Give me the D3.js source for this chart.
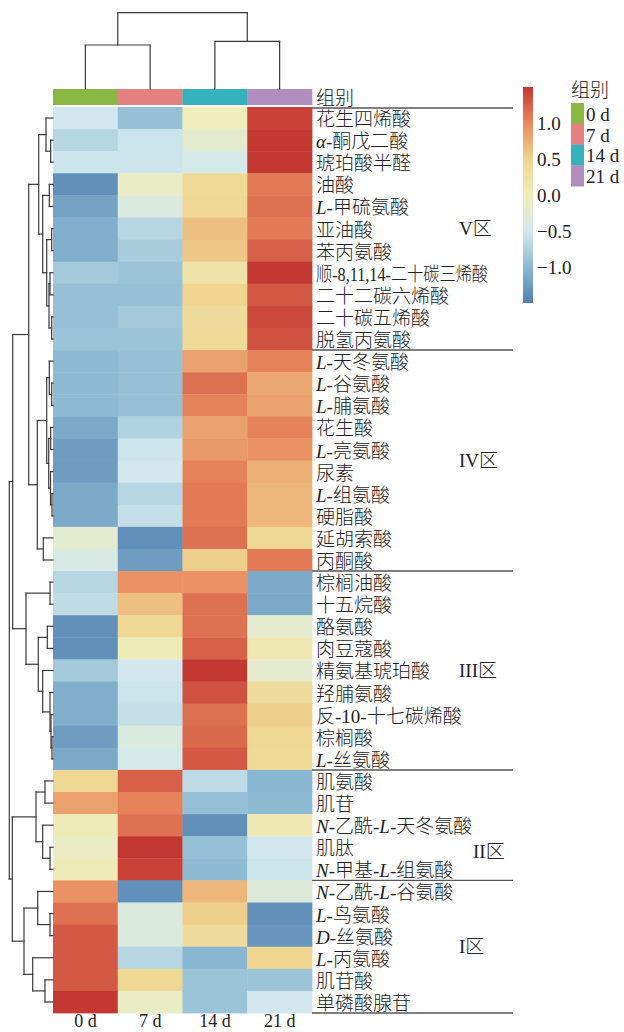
<!DOCTYPE html>
<html>
<head>
<meta charset="utf-8">
<script src="https://cdn.jsdelivr.net/npm/d3@7"></script>
<style>
  html, body { margin: 0; padding: 0; background: #fff; }
  svg text { font-family: "Liberation Serif", "Noto Sans CJK SC", serif; fill: #222; }
  .cjk-light { font-weight: 300; }
</style>
</head>
<body>
<svg id="chart" width="624" height="1032"></svg>
<script>
// ---- data -------------------------------------------------------------
// sampling days (columns) and their group colours
const days = ["0 d", "7 d", "14 d", "21 d"];
const dayColors = ["#8BB842", "#E4807F", "#35B2BD", "#B18CBE"];

// metabolites in dendrogram order; *...* marks italic prefixes
const metabolites = [
  "花生四烯酸", "*α*-酮戊二酸", "琥珀酸半醛", "油酸", "*L*-甲硫氨酸", "亚油酸", "苯丙氨酸",
  "顺-8,11,14-二十碳三烯酸", "二十二碳六烯酸", "二十碳五烯酸", "脱氢丙氨酸",
  "*L*-天冬氨酸", "*L*-谷氨酸", "*L*-脯氨酸", "花生酸", "*L*-亮氨酸", "尿素", "*L*-组氨酸",
  "硬脂酸", "延胡索酸", "丙酮酸",
  "棕榈油酸", "十五烷酸", "酪氨酸", "肉豆蔻酸", "精氨基琥珀酸", "羟脯氨酸",
  "反-10-十七碳烯酸", "棕榈酸", "*L*-丝氨酸",
  "肌氨酸", "肌苷", "*N*-乙酰-*L*-天冬氨酸", "肌肽", "*N*-甲基-*L*-组氨酸",
  "*N*-乙酰-*L*-谷氨酸", "*L*-鸟氨酸", "*D*-丝氨酸", "*L*-丙氨酸", "肌苷酸", "单磷酸腺苷"
];

// row-scaled (z-score) relative abundance per day
const z0d = [-0.5, -0.7, -0.55, -1.35, -1.2, -1.1, -1.1, -0.85, -0.95, -0.95, -0.9,
  -1.0, -1.0, -1.0, -1.15, -1.25, -1.25, -1.15, -1.15, -0.2, -0.4,
  -0.7, -0.65, -1.35, -1.35, -0.85, -1.1, -1.1, -1.25, -1.15,
  0.45, 0.85, 0.05, -0.1, 0.05,
  0.95, 1.15, 1.3, 1.3, 1.3, 1.5];
const z7d = [-0.95, -0.55, -0.55, -0.1, -0.35, -0.7, -0.8, -0.9, -0.95, -0.85, -0.9,
  -0.95, -0.95, -0.95, -0.75, -0.55, -0.5, -0.7, -0.6, -1.35, -1.25,
  0.95, 0.65, 0.45, 0.05, -0.5, -0.55, -0.6, -0.35, -0.45,
  1.25, 1.05, 1.15, 1.5, 1.45,
  -1.35, -0.35, -0.35, -0.7, 0.45, -0.1];
const z14d = [0.0, -0.2, -0.45, 0.4, 0.45, 0.65, 0.6, 0.2, 0.5, 0.35, 0.4,
  0.85, 1.15, 1.05, 0.85, 0.9, 1.05, 1.1, 1.1, 1.15, 0.55,
  0.95, 1.15, 1.15, 1.25, 1.5, 1.35, 1.15, 1.2, 1.3,
  -0.65, -0.95, -1.35, -0.95, -1.0,
  0.7, 0.55, 0.35, -1.05, -0.9, -0.9];
const z21d = [1.45, 1.5, 1.5, 1.1, 1.15, 1.1, 1.25, 1.5, 1.3, 1.4, 1.35,
  1.05, 0.8, 0.85, 1.05, 0.95, 0.75, 0.7, 0.7, 0.45, 1.1,
  -1.15, -1.15, -0.2, 0.1, -0.2, 0.35, 0.55, 0.45, 0.4,
  -1.05, -1.0, 0.1, -0.5, -0.55,
  -0.3, -1.35, -1.3, 0.5, -0.9, -0.5];
const zByDay = [z0d, z7d, z14d, z21d];

// clusters (regions) as row counts, top to bottom
const regionNames = ["V区", "IV区", "III区", "II区", "I区"];
const regionSizes = [11, 10, 9, 5, 6];

// hierarchical clustering, hclust convention: negative = leaf (-(i+1)), positive = earlier merge (1-based)
const rowMerge = [
  [-2, -3, 2.3], [-1, 1, 7], [-4, -5, 3.7], [-6, -7, 1.3], [-8, -9, 3], [-10, -11, 1.3],
  [5, 6, 4], [4, 7, 6.3], [3, 8, 10.3], [2, 9, 14.3],
  [-13, -14, 1.3], [-12, 11, 3.7], [-15, -16, 2.3], [-18, -19, 1], [-17, 14, 2.5],
  [13, 15, 4.3], [12, 16, 6.3], [-20, -21, 9.7], [17, 18, 15.7], [10, 19, 24.3],
  [-22, -23, 3], [-24, -25, 5.7], [-29, -30, 1], [-28, 23, 2], [-27, 24, 3],
  [-26, 25, 10.3], [22, 26, 14.7], [21, 27, 27], [20, 28, 40.3],
  [-31, -32, 8], [-34, -35, 3], [-33, 31, 10.3], [30, 32, 17],
  [-37, -38, 3], [-36, 34, 15.3], [-40, -41, 8], [-39, 36, 20.3], [35, 37, 29],
  [33, 38, 40.7], [29, 39, 43.7]
];
const colMerge = [[-1, -2, 44], [-3, -4, 47.7], [1, 2, 76.3]];

// colour-key ticks
const keyTicks = [1.0, 0.5, 0.0, -0.5, -1.0];
const keyColors = ["#4E7EB0", "#8EBBD2", "#D3E8EE", "#EFEDBA", "#EFD590", "#E98A5E", "#C43832"];

// ---- layout -------------------------------------------------------------
const L = {
  hmLeft: 53, hmRight: 312, hmTop: 107, hmBottom: 1013,
  barTop: 89, barBottom: 105,
  rowDendroLeft: 9.3, colDendroTop: 12.7,
  labelX: 316, lineEnd: 513, regionX: 459,
  keyX: 523, keyW: 10, keyTop: 87, keyBottom: 303,
  legX: 571, legTop: 103, legSw: 13, legH: 20.8,
  fs: 19
};
// where each region label sits (in row units) and its horizontal nudge
const regionLabelRow = [5.5, 16, 25.5, 33.7, 38];
const regionLabelDx = [0, 0, 0, 14, 0];

const svg = d3.select("#chart");

const x = d3.scaleBand().domain(days).range([L.hmLeft, L.hmRight]);
const y = d3.scaleBand().domain(metabolites).range([L.hmTop, L.hmBottom]);
const color = d3.scaleLinear()
  .domain(d3.range(keyColors.length).map(i => -1.5 + i * 0.5))
  .range(keyColors).clamp(true);

// ---- heatmap cells ----
const cells = [];
metabolites.forEach((m, i) => days.forEach((d, j) => cells.push({ m, d, v: zByDay[j][i] })));
svg.append("g").selectAll("rect").data(cells).join("rect")
  .attr("x", c => x(c.d)).attr("y", c => y(c.m))
  .attr("width", x.bandwidth() + 0.4).attr("height", y.bandwidth() + 0.4)
  .attr("fill", c => color(c.v));

// ---- group annotation bar ----
svg.append("g").selectAll("rect").data(days).join("rect")
  .attr("x", d => x(d)).attr("y", L.barTop)
  .attr("width", x.bandwidth() + 0.3).attr("height", L.barBottom - L.barTop)
  .attr("fill", (d, i) => dayColors[i]);
svg.append("text").attr("class", "cjk-light")
  .attr("x", L.labelX).attr("y", (L.barTop + L.barBottom) / 2 + 1)
  .attr("dominant-baseline", "central").attr("font-size", L.fs).text("组别");

// ---- dendrograms ----
function buildTree(merge, leafPos) {
  const nodes = [];
  const get = k => k < 0 ? { pos: leafPos(-k - 1), h: 0 } : nodes[k - 1];
  const segs = [];
  merge.forEach(([a, b, h]) => {
    const na = get(a), nb = get(b);
    segs.push({ p1: na.pos, p2: nb.pos, h1: h, h2: h });      // joining bar
    segs.push({ p1: na.pos, p2: na.pos, h1: na.h, h2: h });   // arm to child a
    segs.push({ p1: nb.pos, p2: nb.pos, h1: nb.h, h2: h });   // arm to child b
    nodes.push({ pos: (na.pos + nb.pos) / 2, h });
  });
  return segs;
}

const rowH = d3.scaleLinear().domain([0, d3.max(rowMerge, d => d[2])]).range([L.hmLeft, L.rowDendroLeft]);
const rowSegs = buildTree(rowMerge, i => y(metabolites[i]) + y.bandwidth() / 2);
svg.append("g").selectAll("line").data(rowSegs).join("line")
  .attr("x1", s => rowH(s.h1)).attr("x2", s => rowH(s.h2))
  .attr("y1", s => s.p1).attr("y2", s => s.p2)
  .attr("stroke", "#3a3a3a").attr("stroke-width", 1.2).attr("stroke-linecap", "square");

const colH = d3.scaleLinear().domain([0, d3.max(colMerge, d => d[2])]).range([L.barTop, L.colDendroTop]);
const colSegs = buildTree(colMerge, j => x(days[j]) + x.bandwidth() / 2);
svg.append("g").selectAll("line").data(colSegs).join("line")
  .attr("y1", s => colH(s.h1)).attr("y2", s => colH(s.h2))
  .attr("x1", s => s.p1).attr("x2", s => s.p2)
  .attr("stroke", "#3a3a3a").attr("stroke-width", 1.2).attr("stroke-linecap", "square");

// ---- row labels with italic prefixes ----
const rowLab = svg.append("g").selectAll("text").data(metabolites).join("text")
  .attr("class", "cjk-light")
  .attr("x", L.labelX).attr("y", m => y(m) + y.bandwidth() / 2 + 1)
  .attr("dominant-baseline", "central").attr("font-size", L.fs);
rowLab.each(function (m) {
  const t = d3.select(this);
  m.split("*").forEach((part, k) => {
    if (!part) return;
    t.append("tspan").text(part).attr("font-style", k % 2 ? "italic" : null);
  });
});
// long labels are condensed to the label column width
rowLab.each(function () {
  const w = this.getComputedTextLength();
  if (w > 172) d3.select(this).attr("textLength", 172).attr("lengthAdjust", "spacingAndGlyphs");
});

// ---- region separators and labels ----
const bounds = [0, ...d3.cumsum(regionSizes)];
svg.append("g").selectAll("line").data(bounds).join("line")
  .attr("x1", L.hmRight).attr("x2", L.lineEnd)
  .attr("y1", k => L.hmTop + k * y.step() + (k === 0 ? 1 : 0))
  .attr("y2", k => L.hmTop + k * y.step() + (k === 0 ? 1 : 0))
  .attr("stroke", "#555").attr("stroke-width", 1.4);
svg.append("g").selectAll("text").data(regionNames).join("text")
  .attr("class", "cjk-light")
  .attr("x", (r, i) => L.regionX + regionLabelDx[i])
  .attr("y", (r, i) => L.hmTop + regionLabelRow[i] * y.step())
  .attr("dominant-baseline", "central").attr("font-size", L.fs).text(r => r);

// ---- column labels ----
svg.append("g").selectAll("text").data(days).join("text")
  .attr("x", d => x(d) + x.bandwidth() / 2).attr("y", 1027)
  .attr("text-anchor", "middle").attr("font-size", 18).text(d => d);

// ---- colour key ----
const keyScale = d3.scaleLinear().domain([-1.5, 1.5]).range([L.keyBottom, L.keyTop]);
const grad = svg.append("defs").append("linearGradient")
  .attr("id", "keygrad").attr("x1", 0).attr("x2", 0).attr("y1", 1).attr("y2", 0);
grad.selectAll("stop").data(keyColors).join("stop")
  .attr("offset", (c, i) => i / (keyColors.length - 1)).attr("stop-color", c => c);
svg.append("rect").attr("x", L.keyX).attr("y", L.keyTop)
  .attr("width", L.keyW).attr("height", L.keyBottom - L.keyTop).attr("fill", "url(#keygrad)");
const keyAxis = d3.axisRight(keyScale).tickValues(keyTicks).tickSize(0).tickPadding(4)
  .tickFormat(v => (v < 0 ? "\u2212" : "") + Math.abs(v).toFixed(1));
const kg = svg.append("g").attr("transform", `translate(${L.keyX + L.keyW},0)`).call(keyAxis);
kg.select(".domain").remove();
kg.selectAll("text").attr("font-size", L.fs).attr("fill", "#222")
  .style("font-family", "'Liberation Serif', 'Noto Sans CJK SC', serif");

// ---- group legend ----
svg.append("text").attr("class", "cjk-light")
  .attr("x", L.legX).attr("y", 90).attr("dominant-baseline", "central")
  .attr("font-size", L.fs).text("组别");
const leg = svg.append("g").selectAll("g").data(days).join("g")
  .attr("transform", (d, i) => `translate(${L.legX},${L.legTop + i * L.legH})`);
leg.append("rect").attr("width", L.legSw).attr("height", L.legH + 0.3)
  .attr("fill", (d, i) => dayColors[i]);
leg.append("text").attr("x", L.legSw + 2).attr("y", L.legH / 2 + 1)
  .attr("dominant-baseline", "central").attr("font-size", L.fs).text(d => d);
</script>
</body>
</html>
